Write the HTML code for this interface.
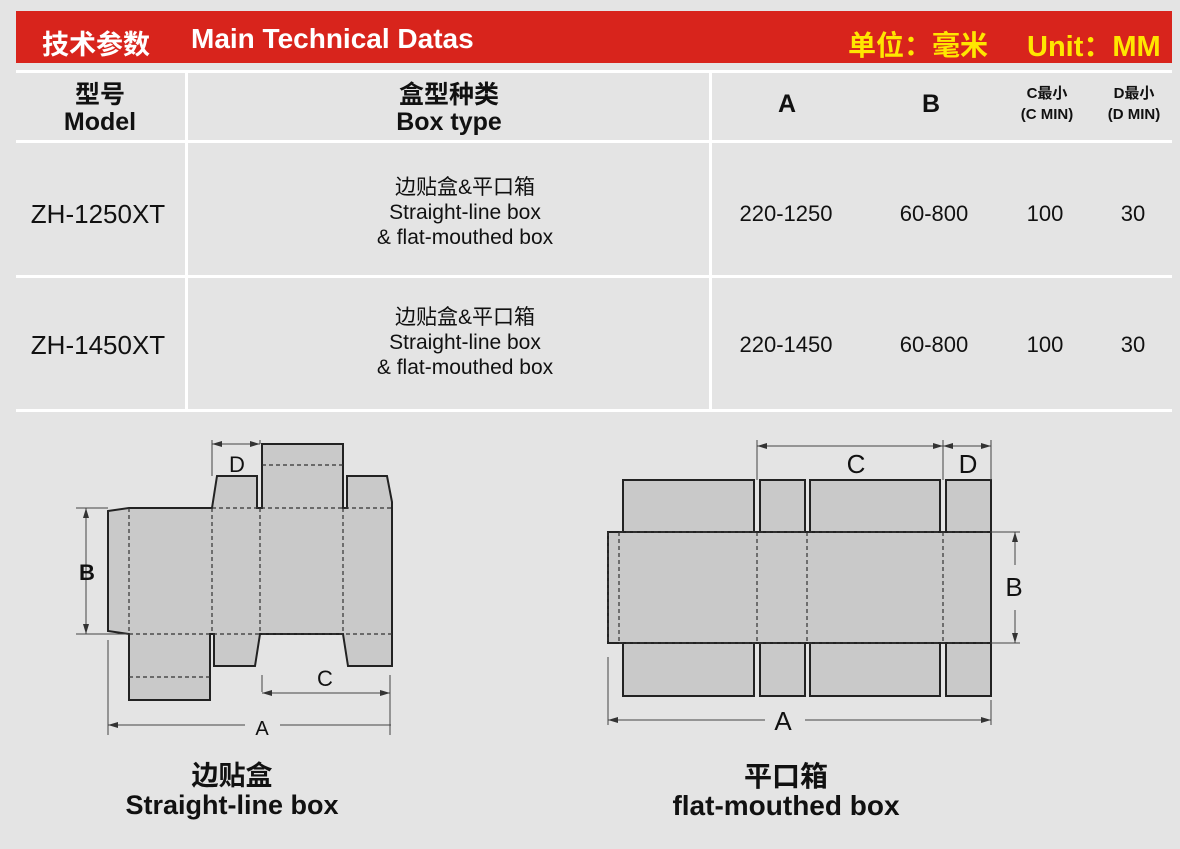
<!DOCTYPE html>
<html><head><meta charset="utf-8"><style>
body{margin:0;width:1180px;height:849px;background:#e4e4e4;position:relative;overflow:hidden;font-family:"Liberation Sans","Noto Sans CJK SC",sans-serif;color:#111}
.a{position:absolute;white-space:nowrap}
.c{transform:translateX(-50%);text-align:center}
.bar{position:absolute;left:16px;top:11px;width:1156px;height:52px;background:#d8241c}
.hl{position:absolute;left:16px;width:1156px;height:3px;background:#fff}
.vl{position:absolute;width:3px;background:#fff;top:71px;height:339px}
.h{font-weight:bold;font-size:25px;line-height:27px}
.s{font-weight:bold;font-size:15px;line-height:21px}
.m{font-size:26px}
.t{font-size:21px;line-height:25px}
.v{font-size:22px}
</style></head><body>
<div class="bar"></div>
<div class="a" style="left:42px;top:23px;color:#fff;font-weight:bold;font-size:27px">技术参数</div>
<div class="a" style="left:191px;top:23px;color:#fff;font-weight:bold;font-size:28px">Main Technical Datas</div>
<div class="a" style="left:848px;top:24px;color:#ffe600;font-weight:bold;font-size:28px">单位：毫米</div>
<div class="a" style="left:1027px;top:23px;color:#ffe600;font-weight:bold;font-size:29px">Unit：MM</div>
<div class="hl" style="top:70px"></div>
<div class="hl" style="top:140px"></div>
<div class="hl" style="top:275px"></div>
<div class="hl" style="top:409px"></div>
<div class="vl" style="left:185px"></div>
<div class="vl" style="left:709px"></div>
<div class="a c h" style="left:100px;top:82px">型号<br>Model</div>
<div class="a c h" style="left:449px;top:82px">盒型种类<br>Box type</div>
<div class="a c h" style="left:787px;top:91px">A</div>
<div class="a c h" style="left:931px;top:91px">B</div>
<div class="a c s" style="left:1047px;top:83px">C最小<br>(C MIN)</div>
<div class="a c s" style="left:1134px;top:83px">D最小<br>(D MIN)</div>
<div class="a c m" style="left:98px;top:199px">ZH-1250XT</div>
<div class="a c t" style="left:465px;top:175px">边贴盒&amp;平口箱<br>Straight-line box<br>&amp; flat-mouthed box</div>
<div class="a c v" style="left:786px;top:201px">220-1250</div>
<div class="a c v" style="left:934px;top:201px">60-800</div>
<div class="a c v" style="left:1045px;top:201px">100</div>
<div class="a c v" style="left:1133px;top:201px">30</div>
<div class="a c m" style="left:98px;top:330px">ZH-1450XT</div>
<div class="a c t" style="left:465px;top:305px">边贴盒&amp;平口箱<br>Straight-line box<br>&amp; flat-mouthed box</div>
<div class="a c v" style="left:786px;top:332px">220-1450</div>
<div class="a c v" style="left:934px;top:332px">60-800</div>
<div class="a c v" style="left:1045px;top:332px">100</div>
<div class="a c v" style="left:1133px;top:332px">30</div>

<svg class="a" style="left:0;top:0" width="1180" height="849">
<defs><marker id="ar" viewBox="0 0 10 6" refX="10" refY="3" markerWidth="10" markerHeight="6" orient="auto-start-reverse"><path d="M0,0L10,3L0,6z" fill="#333"/></marker></defs>
<g fill="#c9c9c9" stroke="#222" stroke-width="2">
<path d="M108,511 L129,508 L212,508 L217,476 L257,476 L257,508 L262,508 L262,444 L343,444 L343,508 L347,508 L347,476 L387,476 L392,502 L392,666 L348,666 L343,634 L260,634 L255,666 L214,666 L214,634 L210,634 L210,700 L129,700 L129,634 L108,631 Z"/>
<rect x="623" y="480" width="131" height="52"/><rect x="760" y="480" width="45" height="52"/><rect x="810" y="480" width="130" height="52"/><rect x="946" y="480" width="45" height="52"/>
<rect x="608" y="532" width="383" height="111"/>
<rect x="623" y="643" width="131" height="53"/><rect x="760" y="643" width="45" height="53"/><rect x="810" y="643" width="130" height="53"/><rect x="946" y="643" width="45" height="53"/>
</g>
<rect x="609" y="533" width="381" height="109" fill="#c9c9c9"/>
<g stroke="#333" stroke-width="1.2" stroke-dasharray="4,3" fill="none">
<path d="M129,508V634M212,508V634M260,508V634M343,508V634M129,634H392M212,508H392M262,465H343M129,677H210"/>
<path d="M619,532H991M619,643H991M619,532V643M757,532V643M807,532V643M943,532V643"/>
<path d="M608,532V643"/>
</g>
<g stroke="#444" stroke-width="1" fill="none">
<path d="M212,440V476M260,440V444M76,508H108M76,634H128M262,675V692M390,675V735M108,640V735"/>
<path d="M212,444H260" marker-start="url(#ar)" marker-end="url(#ar)"/>
<path d="M86,508V634" marker-start="url(#ar)" marker-end="url(#ar)"/>
<path d="M262,693H390" marker-start="url(#ar)" marker-end="url(#ar)"/>
<path d="M108,725H245M280,725H391" />
<path d="M108,725h14M391,725h-14" marker-start="url(#ar)"/>
<path d="M757,440V480M943,440V480M991,440V480M991,532H1020M991,643H1020M608,657V725M991,700V725"/>
<path d="M757,446H943" marker-start="url(#ar)" marker-end="url(#ar)"/>
<path d="M943,446H991" marker-start="url(#ar)" marker-end="url(#ar)"/>
<path d="M1015,532V565M1015,610V643"/>
<path d="M1015,565V532" marker-end="url(#ar)"/><path d="M1015,610V643" marker-end="url(#ar)"/>
<path d="M608,720H765M805,720H991"/>
<path d="M625,720H608" marker-end="url(#ar)"/><path d="M975,720H991" marker-end="url(#ar)"/>
</g>
<g font-family="Liberation Sans,sans-serif" font-size="22" fill="#111" text-anchor="middle">
<text x="237" y="472">D</text><text x="87" y="580" font-weight="bold">B</text><text x="325" y="686">C</text><text x="262" y="735" font-size="20">A</text>
<text x="856" y="473" font-size="26">C</text><text x="968" y="473" font-size="26">D</text><text x="1014" y="596" font-size="26">B</text><text x="783" y="730" font-size="26">A</text>
</g>
</svg>
<div class="a c" style="left:232px;top:762px;font-size:27px;font-weight:bold;line-height:29px">边贴盒<br>Straight-line box</div>
<div class="a c" style="left:786px;top:762px;font-size:28px;font-weight:bold;line-height:29px">平口箱<br>flat-mouthed box</div>
</body></html>
